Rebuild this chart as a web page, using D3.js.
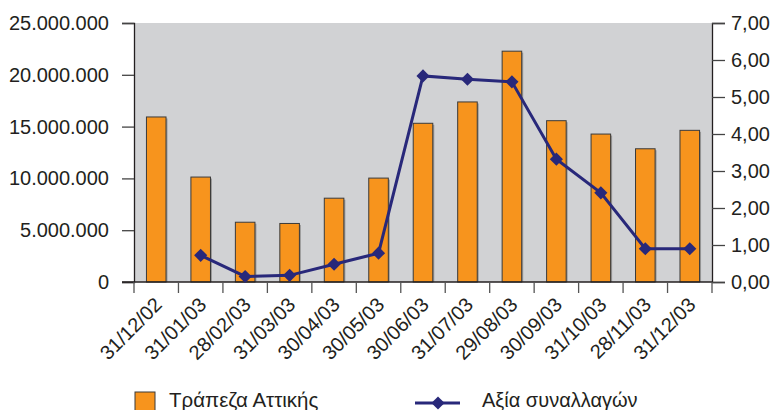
<!DOCTYPE html>
<html>
<head>
<meta charset="utf-8">
<script src="https://cdn.jsdelivr.net/npm/d3@7"></script>
<style>
    body { margin: 0; background: #fff; }
    text { font-family: "Liberation Sans", Arial, Helvetica, sans-serif; fill: #231f20; }
</style>
</head>
<body>
<svg id="chart" width="773" height="410"></svg>
<script>
// DATA
const dates = ["31/12/02", "31/01/03", "28/02/03", "31/03/03", "30/04/03", "30/05/03", "30/06/03",
    "31/07/03", "29/08/03", "30/09/03", "31/10/03", "28/11/03", "31/12/03"];
const bankValues = [15930000, 10130000, 5770000, 5650000, 8090000, 10030000, 15320000,
    17380000, 22280000, 15570000, 14280000, 12860000, 14640000];
const tradeValues = [null, 0.72, 0.15, 0.18, 0.48, 0.78, 5.57, 5.48, 5.41, 3.32, 2.41, 0.90, 0.90];
const leftTicks = [0, 5000000, 10000000, 15000000, 20000000, 25000000];
const rightTicks = [0, 1, 2, 3, 4, 5, 6, 7];
const seriesNames = ["Τράπεζα Αττικής", "Αξία συναλλαγών"];

// LAYOUT
const plot = {left: 134, right: 712, top: 23, bottom: 282};
const svg = d3.select("#chart");

// Greek number format: dot for thousands, comma for decimals
const locale = d3.formatLocale({decimal: ",", thousands: ".", grouping: [3], currency: ["", "€"]});
const fmtLeft = locale.format(",");
const fmtRight = locale.format(".2f");

// SCALES
const x = d3.scaleBand().domain(dates).range([plot.left, plot.right]);
const yLeft = d3.scaleLinear().domain([0, 25000000]).range([plot.bottom, plot.top]);
const yRight = d3.scaleLinear().domain([0, 7]).range([plot.bottom, plot.top]);

// Plot background
svg.append("rect")
    .attr("x", plot.left).attr("y", plot.top)
    .attr("width", plot.right - plot.left).attr("height", plot.bottom - plot.top)
    .attr("fill", "#d1d2d4");

// Bars (with a faint shadow on the right)
const barW = x.bandwidth() * 0.44;
const bars = svg.append("g");
bars.selectAll("rect.shadow")
    .data(bankValues)
    .enter().append("rect")
    .attr("class", "shadow")
    .attr("x", (d, i) => x(dates[i]) + (x.bandwidth() - barW) / 2 + 1.5)
    .attr("y", d => yLeft(d) + 1.5)
    .attr("width", barW)
    .attr("height", d => plot.bottom - yLeft(d) - 1.5)
    .attr("fill", "#9a9a9a");
bars.selectAll("rect.bar")
    .data(bankValues)
    .enter().append("rect")
    .attr("class", "bar")
    .attr("x", (d, i) => x(dates[i]) + (x.bandwidth() - barW) / 2)
    .attr("y", d => yLeft(d))
    .attr("width", barW)
    .attr("height", d => plot.bottom - yLeft(d))
    .attr("fill", "#f7941d")
    .attr("stroke", "#3a3a3a")
    .attr("stroke-width", 1);

// AXES
const leftAxis = svg.append("g")
    .attr("transform", `translate(${plot.left},0)`)
    .call(d3.axisLeft(yLeft).tickValues(leftTicks).tickFormat(fmtLeft).tickSize(12).tickPadding(13));
const rightAxis = svg.append("g")
    .attr("transform", `translate(${plot.right},0)`)
    .call(d3.axisRight(yRight).tickValues(rightTicks).tickFormat(fmtRight).tickSize(13).tickPadding(6));
const bottomAxis = svg.append("g")
    .attr("transform", `translate(0,${plot.bottom})`)
    .call(d3.axisBottom(x).tickSize(0).tickFormat(""));

[leftAxis, rightAxis, bottomAxis].forEach(g => {
    g.select(".domain").attr("stroke", "#231f20").attr("stroke-width", 1.3);
    g.selectAll(".tick line").attr("stroke", "#444").attr("stroke-width", 1.3);
    g.selectAll("text").attr("font-size", 20).attr("fill", "#231f20")
        .attr("font-family", "'Liberation Sans', Arial, sans-serif");
});
bottomAxis.select(".domain").attr("d", `M${plot.left - 12},0H${plot.right}`);

// Category separators below the axis
svg.append("g").selectAll("line")
    .data(d3.range(dates.length + 1))
    .enter().append("line")
    .attr("x1", i => plot.left + i * x.bandwidth())
    .attr("x2", i => plot.left + i * x.bandwidth())
    .attr("y1", plot.bottom)
    .attr("y2", plot.bottom + 11)
    .attr("stroke", "#555")
    .attr("stroke-width", 1.3);

// Rotated category labels
svg.append("g").selectAll("text")
    .data(dates)
    .enter().append("text")
    .attr("transform", d => `translate(${x(d) + x.bandwidth() / 2 + 7},${plot.bottom + 24}) rotate(-45)`)
    .attr("text-anchor", "end")
    .attr("font-size", 20)
    .text(d => d);

// Line series on the right axis
const lineColor = "#28287a";
const points = tradeValues
    .map((v, i) => ({date: dates[i], value: v}))
    .filter(p => p.value !== null);
const line = d3.line()
    .x(d => x(d.date) + x.bandwidth() / 2)
    .y(d => yRight(d.value));
svg.append("path")
    .datum(points)
    .attr("d", line)
    .attr("fill", "none")
    .attr("stroke", lineColor)
    .attr("stroke-width", 3);
const diamond = d3.symbol().type(d3.symbolDiamond2).size(110);
svg.append("g").selectAll("path")
    .data(points)
    .enter().append("path")
    .attr("d", diamond)
    .attr("transform", d => `translate(${x(d.date) + x.bandwidth() / 2},${yRight(d.value)})`)
    .attr("fill", lineColor);

// LEGEND
const legend = svg.append("g");
legend.append("rect")
    .attr("x", 135).attr("y", 392)
    .attr("width", 20).attr("height", 20)
    .attr("fill", "#f7941d")
    .attr("stroke", "#3a3a3a");
legend.append("text")
    .attr("x", 169).attr("y", 407)
    .attr("font-size", 20.5)
    .text(seriesNames[0]);
legend.append("line")
    .attr("x1", 415).attr("x2", 460)
    .attr("y1", 403).attr("y2", 403)
    .attr("stroke", lineColor).attr("stroke-width", 3);
legend.append("path")
    .attr("d", diamond)
    .attr("transform", "translate(438,403)")
    .attr("fill", lineColor);
legend.append("text")
    .attr("x", 482).attr("y", 407)
    .attr("font-size", 20)
    .text(seriesNames[1]);
</script>
</body>
</html>
